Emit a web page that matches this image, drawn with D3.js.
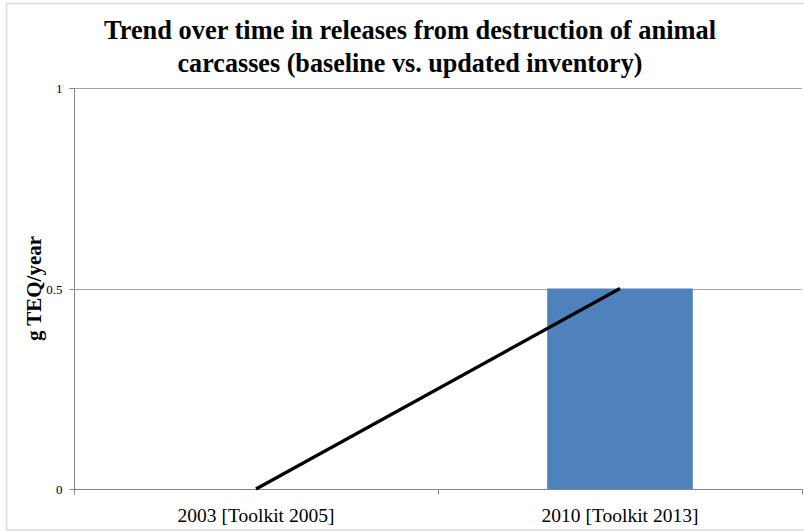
<!DOCTYPE html>
<html>
<head>
<meta charset="utf-8">
<script src="https://cdn.jsdelivr.net/npm/d3@7"></script>
<style>
  html, body { margin: 0; padding: 0; background: #fff; }
  svg { display: block; }
</style>
</head>
<body>
<svg id="chart" width="804" height="532"></svg>
<script>
// Chart data
const categories = ["2003 [Toolkit 2005]", "2010 [Toolkit 2013]"];
const barValues = [0, 0.5];
const lineValues = [0, 0.5];
const yTicks = [0, 0.5, 1];
const yTickLabels = ["0", "0.5", "1"];
const titleLines = ["Trend over time in releases from destruction of animal",
                    "carcasses (baseline vs. updated inventory)"];
const yAxisTitle = "g TEQ/year";

const FONT = "Liberation Serif";
const svg = d3.select("#chart");
const plot = { left: 74, right: 802, top: 88, bottom: 489 };

// Outer chart frame
svg.append("rect")
  .attr("x", 6.5).attr("y", 3.5)
  .attr("width", 804).attr("height", 526.5)
  .attr("fill", "#fff").attr("stroke", "#D9D9D9").attr("stroke-width", 1.5);

const x = d3.scaleBand().domain(categories).range([plot.left, plot.right]);
const y = d3.scaleLinear().domain([0, 1]).range([plot.bottom, plot.top]);

// Horizontal gridlines
svg.append("g").selectAll("line").data(yTicks.filter(d => d > 0)).join("line")
  .attr("x1", plot.left).attr("x2", plot.right)
  .attr("y1", d => Math.round(y(d)) + 0.5).attr("y2", d => Math.round(y(d)) + 0.5)
  .attr("stroke", "#A6A6A6").attr("stroke-width", 1);

// Bars
const barW = x.bandwidth() * 0.4;
svg.append("g").selectAll("rect").data(categories).join("rect")
  .attr("x", d => x(d) + (x.bandwidth() - barW) / 2)
  .attr("y", (d, i) => y(barValues[i]))
  .attr("width", barW)
  .attr("height", (d, i) => y(0) - y(barValues[i]))
  .attr("fill", "#4F81BD");

// Y axis
const yAxis = d3.axisLeft(y).tickValues(yTicks).tickSize(5).tickPadding(7)
  .tickFormat((d, i) => yTickLabels[i]);
const gy = svg.append("g").attr("transform", `translate(${plot.left + 0.5},0)`).call(yAxis);
gy.attr("font-family", FONT).attr("font-size", 13);
gy.select(".domain").attr("stroke", "#868686").attr("d", `M-5,${plot.top + 0.5}H0V${plot.bottom + 0.5}`);
gy.selectAll(".tick line").attr("stroke", "#868686");
gy.selectAll(".tick").attr("transform", d => `translate(0,${Math.round(y(d)) + 0.5})`);
gy.selectAll(".tick text")
  .style("font-family", FONT).style("font-size", "13px").attr("fill", "#000");

// X axis
const gx = svg.append("g").attr("transform", `translate(0,${plot.bottom + 0.5})`);
gx.append("line").attr("x1", plot.left).attr("x2", plot.right + 0.5)
  .attr("stroke", "#868686").attr("stroke-width", 1);
const boundaries = categories.map(c => x(c)).concat([plot.right]);
gx.selectAll("line.tk").data(boundaries).join("line").attr("class", "tk")
  .attr("x1", d => Math.round(d) + 0.5).attr("x2", d => Math.round(d) + 0.5)
  .attr("y1", 0).attr("y2", 5).attr("stroke", "#868686");
gx.selectAll("text").data(categories).join("text")
  .attr("x", d => x(d) + x.bandwidth() / 2)
  .attr("y", 32)
  .attr("text-anchor", "middle")
  .style("font-family", FONT).style("font-size", "19.5px").attr("fill", "#000")
  .text(d => d);

// Trend line
const line = d3.line()
  .x((d, i) => x(categories[i]) + x.bandwidth() / 2)
  .y(d => y(d));
svg.append("path").datum(lineValues)
  .attr("d", line)
  .attr("fill", "none").attr("stroke", "#000").attr("stroke-width", 3.2);

// Title (condensed bold serif)
const titleWidths = [612, 465];
svg.append("g").selectAll("text").data(titleLines).join("text")
  .attr("x", 410).attr("y", (d, i) => 39 + i * 33)
  .attr("text-anchor", "middle")
  .attr("textLength", (d, i) => titleWidths[i])
  .attr("lengthAdjust", "spacingAndGlyphs")
  .style("font-family", FONT).style("font-size", "28px").style("font-weight", "bold")
  .attr("fill", "#000")
  .text(d => d);

// Y axis title
svg.append("text")
  .attr("transform", `translate(41,${(plot.top + plot.bottom) / 2}) rotate(-90)`)
  .attr("text-anchor", "middle")
  .style("font-family", FONT).style("font-size", "21px").style("font-weight", "bold")
  .attr("fill", "#000")
  .text(yAxisTitle);
</script>
</body>
</html>
